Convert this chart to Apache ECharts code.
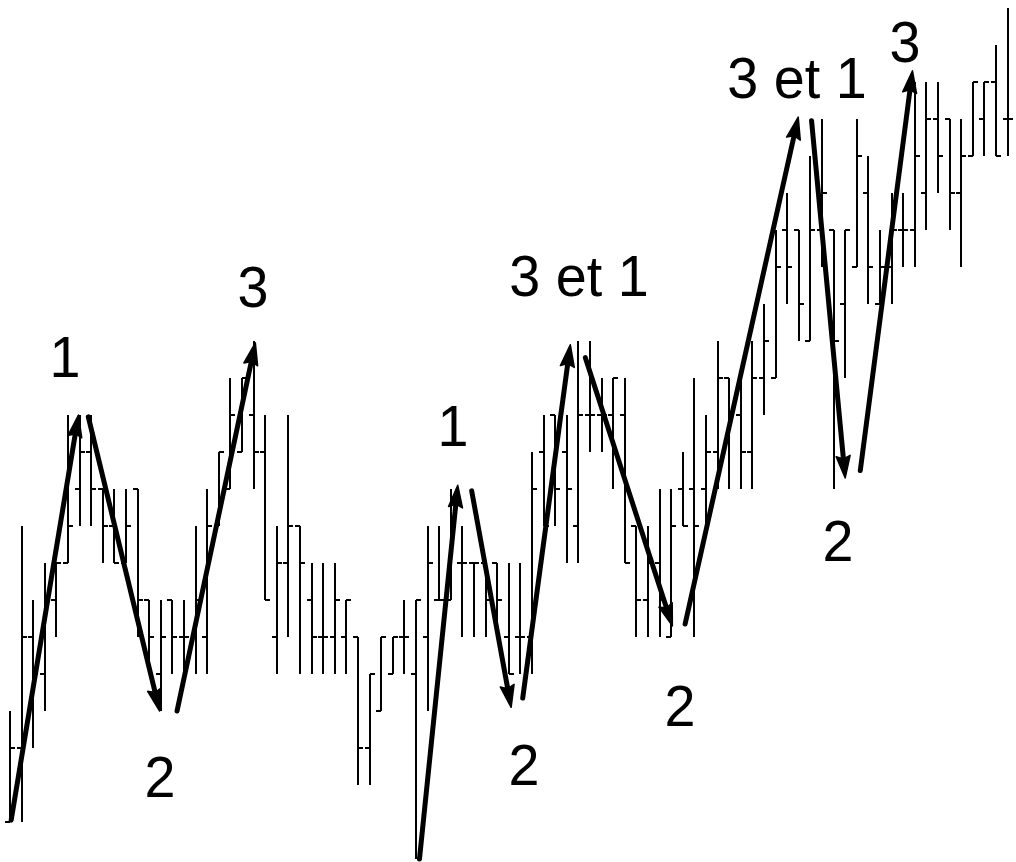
<!DOCTYPE html>
<html><head><meta charset="utf-8">
<script src="https://cdn.jsdelivr.net/npm/echarts@6.0.0/dist/echarts.min.js"></script>
<style>html,body{margin:0;padding:0;background:#fff}#c{width:1016px;height:862px}</style>
</head><body><div id="c"></div>
<script>
// OHLC values per bar (price levels)
const opens  = [0,2,5,4,6,7,9,10,9,8, 7,9,6,4,6,5,5,5,8,9, 10,11,10,5,7,8,6,5,5,5, 5,2,3,4,5,4,5,6,6,7, 7,7,7,5,5,5,10,11,10,8, 11,11,11,11,8,6,7,5,9,9, 9,10,12,11,10,12,12,16,16,13, 16,16,14,15,17,14,15,16,16,17, 19,19,17,18,19,20,19];
const highs  = [3,8,6,7,7,11,11,11,9,9, 9,9,6,6,6,6,8,9,10,12, 12,13,11,8,11,8,7,7,7,6, 5,4,5,5,6,6,8,8,9,8, 7,7,7,7,7,10,11,11,11,13, 13,12,12,12,8,8,9,9,10,12, 11,13,12,12,13,14,16,17,16,18, 19,16,16,19,18,16,17,17,20,20, 20,19,19,20,20,21,22];
const lows   = [0,0,2,3,5,7,8,8,7,7, 7,5,4,3,4,4,4,4,8,9, 10,9,6,4,5,4,4,4,4,4, 1,1,3,4,4,-1,3,6,6,5, 5,5,5,4,4,4,8,8,7,7, 10,10,9,7,5,5,5,5,8,5, 8,9,9,9,9,11,12,14,13,13, 15,9,12,15,14,14,14,15,15,16, 17,16,15,18,18,18,18];
const closes = [2,5,4,6,7,8,10,9,8,7, 8,6,5,5,5,5,6,8,10,11, 12,10,6,7,8,7,5,5,6,6, 2,4,5,5,5,6,7,6,8,7, 7,6,6,4,5,9,8,9,9,11, 11,11,12,7,6,7,6,8,8,8, 10,12,11,10,12,13,15,15,14,16, 17,13,16,18,15,15,16,16,18,19, 18,17,18,20,20,18,19];

// Arrows: start and end points (bar index, price level)
const arrowStarts = [[0.1,0.05],[6.75,10.95],[14.4,3.0],[35.3,-1.0],[39.8,8.95],[44.2,3.35],[49.6,12.55],[58.2,5.35],[69.1,18.95],[73.3,9.5]];
const arrowEnds   = [[5.9,11.0],[12.9,3.0],[21.15,12.95],[38.6,9.1],[43.2,3.1],[48.3,12.9],[57.1,5.3],[67.95,19.05],[72.0,9.3],[77.8,20.3]];

// Annotation labels
const labelTexts = ['1','2','3','1','2','3 et 1','2','3 et 1','2','3'];
const labelPositions = [[4.74,12.45],[12.93,1.1],[20.95,14.34],[38.19,10.6],[44.31,1.42],[49.05,14.66],[57.76,3.04],[67.84,20.0],[71.38,7.5],[77.16,20.96]];

const ohlcData = opens.map((o,i)=>[i,o,highs[i],lows[i],closes[i]]);
const arrowData = arrowStarts.map((s,i)=>[s[0],s[1],arrowEnds[i][0],arrowEnds[i][1]]);
const labelData = labelPositions.map((p,i)=>[p[0],p[1],i]);

const chart = echarts.init(document.getElementById('c'), null, {renderer:'canvas'});
chart.setOption({
  animation:false,
  backgroundColor:'#fff',
  grid:{left:10,right:8.4,top:8,bottom:3},
  xAxis:{type:'value',min:0,max:86,show:false},
  yAxis:{type:'value',min:-1,max:22,show:false},
  series:[
    {
      type:'custom', clip:false, data:ohlcData, encode:{x:0,y:[1,2,3,4]},
      renderItem:function(params,api){
        const k=api.value(0);
        const pH=api.coord([k,api.value(2)]);
        const pL=api.coord([k,api.value(3)]);
        const pO=api.coord([k,api.value(1)]);
        const pC=api.coord([k,api.value(4)]);
        const x=Math.round(pH[0]);
        const st={stroke:'#000',lineWidth:2};
        return {type:'group',children:[
          {type:'line',shape:{x1:x,y1:Math.round(pH[1]),x2:x,y2:Math.round(pL[1])},style:st},
          {type:'line',shape:{x1:x-5,y1:Math.round(pO[1]),x2:x,y2:Math.round(pO[1])},style:st},
          {type:'line',shape:{x1:x,y1:Math.round(pC[1]),x2:x+5,y2:Math.round(pC[1])},style:st}
        ]};
      }
    },
    {
      type:'custom', clip:false, data:arrowData, encode:{x:[0,2],y:[1,3]},
      renderItem:function(params,api){
        const p0=api.coord([api.value(0),api.value(1)]);
        const p1=api.coord([api.value(2),api.value(3)]);
        const dx=p1[0]-p0[0], dy=p1[1]-p0[1];
        const len=Math.hypot(dx,dy), ux=dx/len, uy=dy/len;
        const hl=22, hw=7;
        const bx=p1[0]-ux*hl, by=p1[1]-uy*hl;
        const nx=-uy, ny=ux;
        return {type:'group',children:[
          {type:'line',shape:{x1:p0[0],y1:p0[1],x2:bx+ux*6,y2:by+uy*6},style:{stroke:'#000',lineWidth:5,lineCap:'round'}},
          {type:'polygon',shape:{points:[[p1[0],p1[1]],[bx+nx*hw,by+ny*hw],[bx+ux*3,by+uy*3],[bx-nx*hw,by-ny*hw]]},style:{fill:'#000',stroke:'#000',lineWidth:1.5,lineJoin:'round'}}
        ]};
      }
    },
    {
      type:'custom', clip:false, data:labelData, encode:{x:0,y:1},
      renderItem:function(params,api){
        const p=api.coord([api.value(0),api.value(1)]);
        return {type:'text',x:p[0],y:p[1],scaleX:0.96,style:{text:labelTexts[api.value(2)],x:0,y:0,align:'center',verticalAlign:'middle',font:'58px "Liberation Sans", Arial, sans-serif',fill:'#000'}};
      }
    }
  ]
});
</script>
</body></html>
